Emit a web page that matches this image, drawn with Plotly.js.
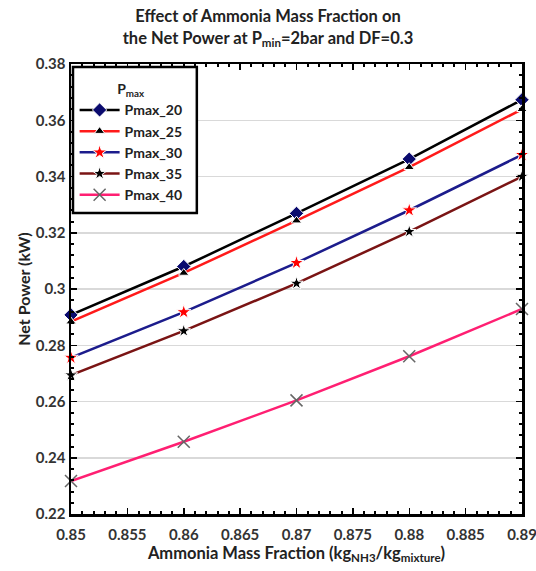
<!DOCTYPE html>
<html>
<head>
<meta charset="utf-8">
<script src="https://cdn.plot.ly/plotly-3.0.1.min.js"></script>
<style>html,body{margin:0;padding:0;background:#fff;}#chart{width:536px;height:571px;}</style>
</head>
<body>
<div id="chart"></div>
<script>
const massFraction = [0.85, 0.86, 0.87, 0.88, 0.89];
const pmax20 = [0.2908, 0.3080, 0.3269, 0.3462, 0.3673];
const pmax25 = [0.2884, 0.3057, 0.3243, 0.3433, 0.3639];
const pmax30 = [0.2756, 0.2918, 0.3093, 0.3280, 0.3477];
const pmax35 = [0.2694, 0.2851, 0.3020, 0.3204, 0.3400];
const pmax40 = [0.2317, 0.2457, 0.2604, 0.2761, 0.2929];
const seriesNames = ['Pmax_20', 'Pmax_25', 'Pmax_30', 'Pmax_35', 'Pmax_40'];

const FONT = 'Lato, "Open Sans", sans-serif';

function tr(name, y, lineColor, sym, mColor, mSize, mLine) {
  return {
    x: massFraction, y: y, name: name, type: 'scatter', mode: 'lines+markers',
    line: {color: lineColor, width: 2.5},
    marker: {symbol: sym, color: mColor, size: mSize,
             line: mLine || {color: '#ffffff', width: 1}},
    cliponaxis: false
  };
}

const data = [
  tr(seriesNames[0], pmax20, '#000000', 'diamond', '#0a0a6e', 11),
  tr(seriesNames[1], pmax25, '#ff1a1a', 'triangle-up', '#000000', 9),
  tr(seriesNames[2], pmax30, '#1c1c8c', 'star', '#ff0000', 11),
  tr(seriesNames[3], pmax35, '#7a1414', 'star', '#000000', 10),
  tr(seriesNames[4], pmax40, '#ff1f72', 'x-thin-open', '#666666', 12, {color: '#666666', width: 1.5})
];

const layout = {
  width: 536, height: 571,
  margin: {l: 71, r: 14, t: 64, b: 57},
  paper_bgcolor: '#ffffff', plot_bgcolor: '#ffffff',
  font: {family: FONT, color: '#222222'},
  title: {
    text: '<b>Effect of Ammonia Mass Fraction on<br>the Net Power at P<sub>min</sub>=2bar and DF=0.3</b>',
    font: {size: 16.5, family: FONT, color: '#222222'},
    x: 0.5, xanchor: 'center', y: 0.961, yanchor: 'top'
  },
  xaxis: {
    range: [0.85, 0.89], dtick: 0.005, tick0: 0.85,
    showgrid: false, zeroline: false,
    showline: true, linecolor: '#000000', linewidth: 2.5, mirror: 'allticks',
    ticks: 'inside', ticklen: 6, tickwidth: 1.5, tickcolor: '#000000',
    minor: {dtick: 0.001, ticks: 'inside', ticklen: 3, tickwidth: 2, tickcolor: '#000000', showgrid: false},
    tickfont: {size: 15, family: FONT, color: '#333333', weight: 'bold'},
    ticklabeloverflow: 'allow', ticklabelstandoff: 5,
    title: {text: '<b>Ammonia Mass Fraction (kg<sub>NH3</sub>/kg<sub>mixture</sub>)</b>',
            font: {size: 16.5, family: FONT, color: '#222222'}, standoff: 6}
  },
  yaxis: {
    range: [0.22, 0.38], dtick: 0.02, tick0: 0.22,
    showgrid: true, gridcolor: '#d9d9d9', gridwidth: 1.5, zeroline: false,
    showline: true, linecolor: '#000000', linewidth: 2.5, mirror: 'allticks',
    ticks: 'inside', ticklen: 6, tickwidth: 1.5, tickcolor: '#000000',
    minor: {dtick: 0.004, ticks: 'inside', ticklen: 3, tickwidth: 2, tickcolor: '#000000', showgrid: false},
    tickfont: {size: 15, family: FONT, color: '#333333', weight: 'bold'},
    title: {text: '<b>Net Power (kW)</b>', font: {size: 16, family: FONT, color: '#222222'}, standoff: 1}
  },
  shapes: [{
    type: 'rect', xref: 'paper', yref: 'paper', layer: 'above',
    x0: 0.0044, x1: 0.279, y0: 0.669, y1: 0.9933,
    fillcolor: '#ffffff', line: {color: '#000000', width: 2.5}
  }],
  legend: {
    x: 0.008, y: 0.973, xanchor: 'left', yanchor: 'top',
    bgcolor: 'rgba(0,0,0,0)', borderwidth: 0,
    font: {size: 14, family: FONT, color: '#222222', weight: 'bold'},
    title: {text: 'P<sub>max</sub>', side: 'top center', font: {size: 14, family: FONT, color: '#222222'}},
    tracegroupgap: 0, itemwidth: 40
  },
  showlegend: true
};

Plotly.newPlot('chart', data, layout, {displayModeBar: false, staticPlot: true});
</script>
</body>
</html>
